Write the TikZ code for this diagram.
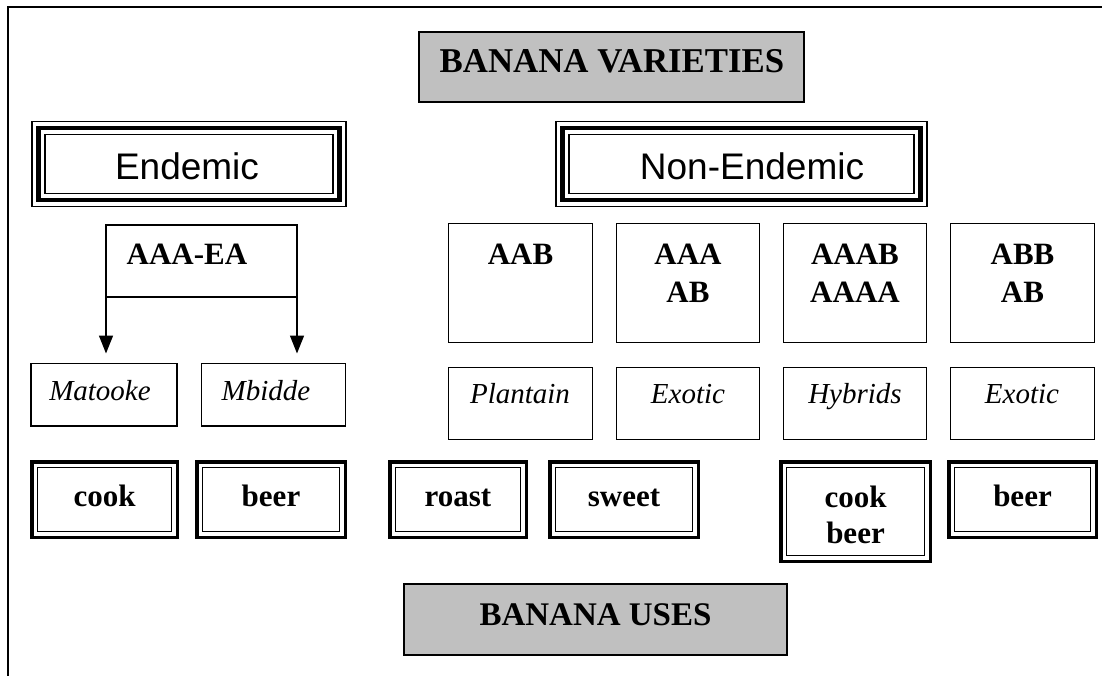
\documentclass[tikz,border=0pt]{standalone}
\usepackage{fontspec}
\setmainfont{Liberation Serif}
\newfontfamily\arialf{Liberation Sans}
\usetikzlibrary{arrows.meta}
\definecolor{titlegray}{HTML}{C0C0C0}
\tikzset{
  frameline/.style={line width=2pt},
  box/.style={draw, line width=1.5pt, inner sep=0pt, outer sep=0pt, anchor=north west},
  titlebox/.style={box, fill=titlegray},
  triplebox/.style={draw, line width=1.8pt, inner sep=0pt, outer sep=0pt, anchor=north west,
    path picture={
      \draw[line width=4.5pt] ([shift={(6.7pt,-6.7pt)}]path picture bounding box.north west) rectangle ([shift={(-6.7pt,6.7pt)}]path picture bounding box.south east);
      \draw[line width=1.8pt] ([shift={(13pt,-13pt)}]path picture bounding box.north west) rectangle ([shift={(-13pt,13pt)}]path picture bounding box.south east);
    }},
  doublebox/.style={draw, line width=3.5pt, inner sep=0pt, outer sep=0pt, anchor=north west,
    path picture={
      \draw[line width=1.4pt] ([shift={(6pt,-6pt)}]path picture bounding box.north west) rectangle ([shift={(-6pt,6pt)}]path picture bounding box.south east);
    }},
  titletext/.style={font=\fontsize{34.8}{40}\selectfont\bfseries, inner sep=0pt, anchor=base},
  sanstext/.style={font=\arialf\fontsize{37}{44}\selectfont, inner sep=0pt, anchor=base},
  boldtext/.style={font=\fontsize{31}{37.5}\selectfont\bfseries, align=center, inner sep=0pt, anchor=base},
  itext/.style={font=\fontsize{29}{35}\selectfont\itshape, inner sep=0pt, anchor=base},
  arr/.style={line width=1.5pt, -{Triangle[width=14pt,length=18pt]}, shorten >=10pt}
}
\begin{document}
\begin{tikzpicture}[x=1pt,y=-1pt]
\useasboundingbox (0,0) rectangle (1102,676);
\draw[frameline] (8.3,676) -- (8.3,7.5) -- (1102,7.5);

% titles
\node[titlebox, minimum width=385pt, minimum height=70pt] (var) at (419,32) {};
\node[titletext] (vart) at (612,73) {BANANA VARIETIES};
\node[titlebox, minimum width=383pt, minimum height=71pt] (uses) at (404,584) {};
\node[titletext, font=\fontsize{33}{40}\selectfont\bfseries] (usest) at (595.5,625) {BANANA USES};

% groups
\node[triplebox, minimum width=314pt, minimum height=85pt] (end) at (32,121.5) {};
\node[sanstext] (endt) at (187,180) {Endemic};
\node[triplebox, minimum width=371pt, minimum height=85pt] (non) at (556,121.5) {};
\node[sanstext] (nont) at (752,180) {Non-Endemic};

% endemic genome
\node[box, minimum width=191pt, minimum height=72pt] (aaa) at (106,225) {};
\node[boldtext] (aaat) at (187,265) {AAA-EA};

% endemic varieties
\node[box, minimum width=146pt, minimum height=62.5pt] (mat) at (31,363.5) {};
\node[itext] (matt) at (100,400) {Matooke};
\node[box, minimum width=144pt, minimum height=62.5pt] (mbi) at (201.5,363.5) {};
\node[itext] (mbit) at (266,400) {Mbidde};

\draw[arr] (aaa.south west) -- (aaa.south west |- mat.north);
\draw[arr] (aaa.south east) -- (aaa.south east |- mbi.north);

% non-endemic genomes
\node[box, minimum width=144pt, minimum height=119pt] (g1) at (448.5,223.5) {};
\node[boldtext] (g1t) at (520.5,265) {AAB};
\node[box, minimum width=143pt, minimum height=119pt] (g2) at (616.5,223.5) {};
\node[boldtext] (g2t) at (688,302) {AAA\\AB};
\node[box, minimum width=143pt, minimum height=119pt] (g3) at (783.5,223.5) {};
\node[boldtext] (g3t) at (855,302) {AAAB\\AAAA};
\node[box, minimum width=144pt, minimum height=119pt] (g4) at (950.5,223.5) {};
\node[boldtext] (g4t) at (1022.5,302) {ABB\\AB};

% non-endemic varieties
\node[box, minimum width=144pt, minimum height=72pt] (v1) at (448.5,367.5) {};
\node[itext] (v1t) at (520,403) {Plantain};
\node[box, minimum width=143pt, minimum height=72pt] (v2) at (616.5,367.5) {};
\node[itext] (v2t) at (688,403) {Exotic};
\node[box, minimum width=143pt, minimum height=72pt] (v3) at (783.5,367.5) {};
\node[itext] (v3t) at (855,403) {Hybrids};
\node[box, minimum width=144pt, minimum height=72pt] (v4) at (950.5,367.5) {};
\node[itext] (v4t) at (1022,403) {Exotic};

% uses
\node[doublebox, minimum width=145.5pt, minimum height=75.5pt] (u1) at (31.75,461.75) {};
\node[boldtext] (u1t) at (104.5,506) {cook};
\node[doublebox, minimum width=148.5pt, minimum height=75.5pt] (u2) at (196.75,461.75) {};
\node[boldtext] (u2t) at (271,506) {beer};
\node[doublebox, minimum width=136.5pt, minimum height=75.5pt] (u3) at (389.75,461.75) {};
\node[boldtext] (u3t) at (458,506) {roast};
\node[doublebox, minimum width=148.5pt, minimum height=75.5pt] (u4) at (549.75,461.75) {};
\node[boldtext] (u4t) at (624,506) {sweet};
\node[doublebox, minimum width=149.5pt, minimum height=99.5pt] (u5) at (780.75,461.75) {};
\node[boldtext, font=\fontsize{31}{36}\selectfont\bfseries] (u5t) at (855.5,543) {cook\\beer};
\node[doublebox, minimum width=147.5pt, minimum height=75.5pt] (u6) at (948.75,461.75) {};
\node[boldtext] (u6t) at (1022.5,506) {beer};
\end{tikzpicture}
\end{document}
